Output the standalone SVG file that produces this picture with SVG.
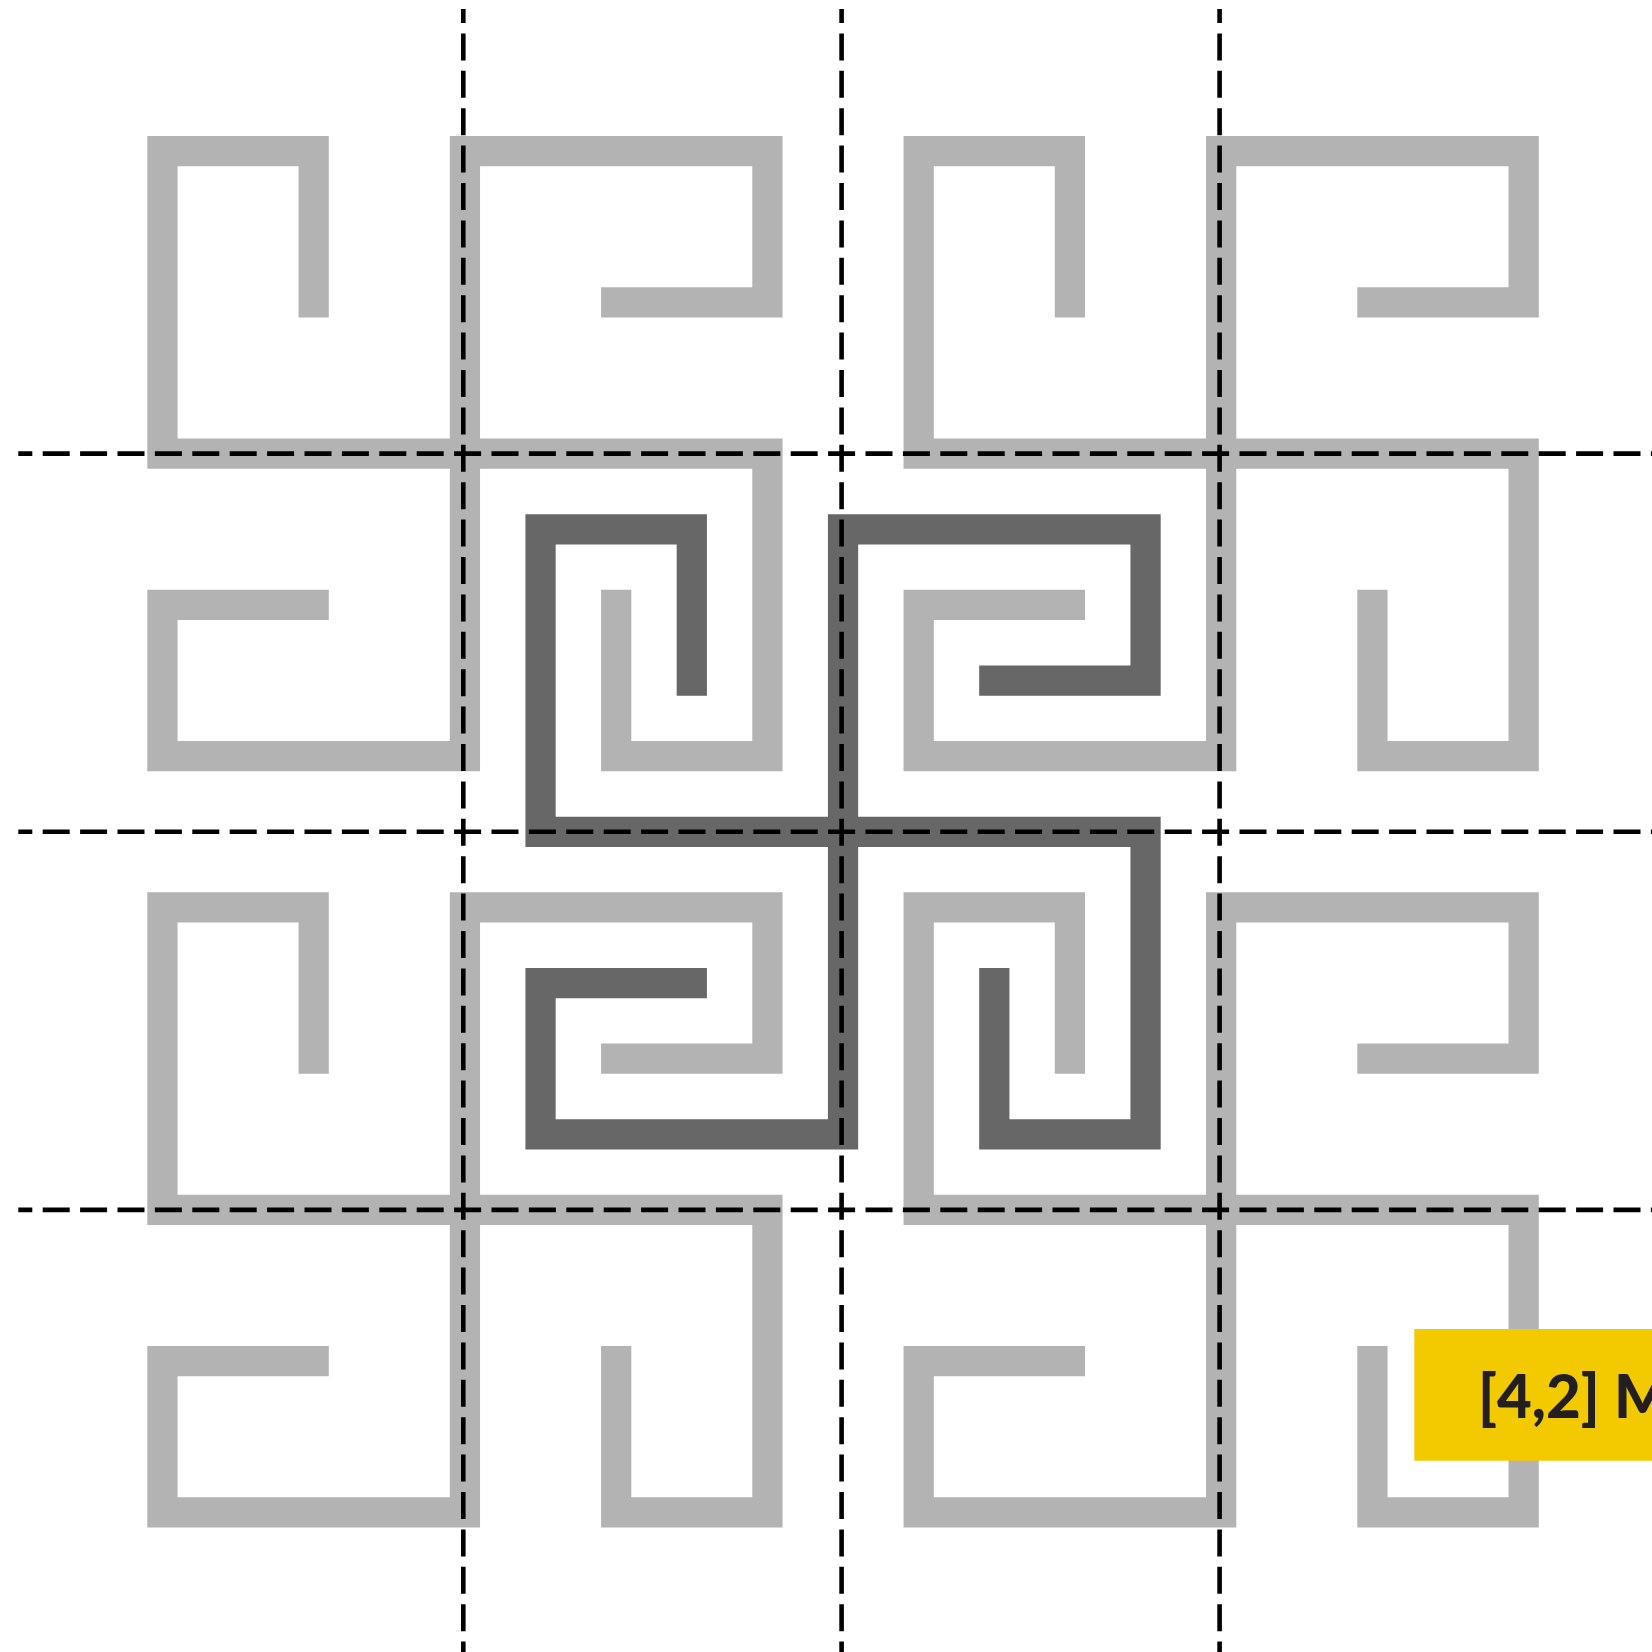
<svg xmlns="http://www.w3.org/2000/svg" xmlns:xlink="http://www.w3.org/1999/xlink" width="1652" height="1652" viewBox="0 0 1652 1652">
  <style>
    .motif { fill: none; stroke-width: 1; stroke-linejoin: miter; stroke-linecap: butt; }
    .light { stroke: #b3b3b3; }
    .dark { stroke: #676767; }
    .grid line { stroke: #000000; stroke-width: 4.6; stroke-dasharray: 27 10.4; stroke-dashoffset: 13; }
    .label-box { fill: #f3c900; }
    .label-text { font-family: Lato, "Open Sans", "Liberation Sans", sans-serif; font-weight: 900; font-size: 60px; fill: #231f20; }
  </style>
  <defs>
    <path id="motif" d="M5.5,6 V0.5 H0.5 V10.5 H20.5 V20.5 H15.5 V15 M15,5.5 H20.5 V0.5 H10.5 V20.5 H0.5 V15.5 H6"/>
  </defs>
  <rect width="1652" height="1652" fill="#ffffff"/>
  <g transform="translate(147.3,136) scale(30.25)">
    <g id="motif-tl"><use xlink:href="#motif" href="#motif" class="motif light"/></g>
    <g id="motif-tr"><use xlink:href="#motif" href="#motif" class="motif light" transform="translate(25,0)"/></g>
    <g id="motif-bl"><use xlink:href="#motif" href="#motif" class="motif light" transform="translate(0,25)"/></g>
    <g id="motif-br"><use xlink:href="#motif" href="#motif" class="motif light" transform="translate(25,25)"/></g>
    <g id="motif-center"><use xlink:href="#motif" href="#motif" class="motif dark" transform="translate(12.5,12.5)"/></g>
  </g>
  <g id="grid-lines" class="grid">
    <line x1="18.3" y1="453.6" x2="1665" y2="453.6"/>
    <line x1="18.3" y1="831.7" x2="1665" y2="831.7"/>
    <line x1="18.3" y1="1209.9" x2="1665" y2="1209.9"/>
    <line x1="463.3" y1="9" x2="463.3" y2="1660"/>
    <line x1="841.6" y1="9" x2="841.6" y2="1660"/>
    <line x1="1219.6" y1="9" x2="1219.6" y2="1660"/>
  </g>
  <g id="label">
    <rect class="label-box" x="1414.3" y="1329" width="240" height="131.7"/>
    <text class="label-text" x="1478" y="1418">[4,2] M</text>
  </g>
</svg>
